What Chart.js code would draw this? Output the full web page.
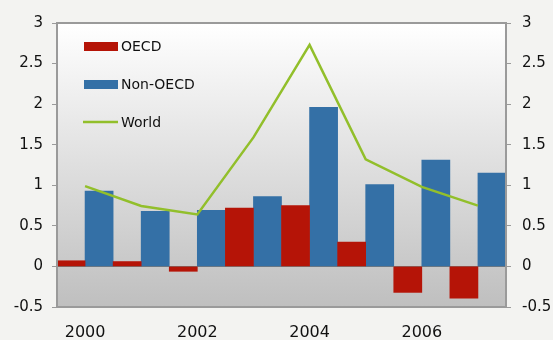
<!DOCTYPE html>
<html>
<head>
<meta charset="utf-8">
<script src="https://cdn.jsdelivr.net/npm/chart.js@4.4.0/dist/chart.umd.min.js"></script>
<style>
  html, body { margin: 0; padding: 0; background: #f3f3f1; }
  #wrap { width: 553px; height: 340px; }
</style>
</head>
<body>
<div id="wrap"><canvas id="chart" width="553" height="340"></canvas></div>
<script>
// datos
const years = ['2000', '2001', '2002', '2003', '2004', '2005', '2006', '2007'];
const oecd = [0.07, 0.06, -0.06, 0.72, 0.75, 0.30, -0.32, -0.39];
const nonOecd = [0.93, 0.68, 0.69, 0.86, 1.96, 1.01, 1.31, 1.15];
const world = [0.99, 0.745, 0.64, 1.59, 2.73, 1.32, 0.98, 0.75];
const yMin = -0.5, yMax = 3, yStep = 0.5;

const RED = '#b51407', BLUE = '#3470a6', GREEN = '#92bf2b';

const fmt = v => String(Math.round(v * 10) / 10);

// fondo degradado + marco + leyenda dentro del area
const decor = {
    id: 'decor',
    beforeDraw(chart) {
        const { ctx, chartArea: a } = chart;
        ctx.save();
        ctx.fillStyle = '#f3f3f1';
        ctx.fillRect(0, 0, chart.width, chart.height);
        const g = ctx.createLinearGradient(0, a.top, 0, a.bottom);
        g.addColorStop(0, '#ffffff');
        g.addColorStop(1, '#bfbfbf');
        ctx.fillStyle = g;
        ctx.fillRect(a.left, a.top, a.right - a.left, a.bottom - a.top);
        ctx.restore();
    },
    afterDraw(chart) {
        const { ctx, chartArea: a } = chart;
        ctx.save();
        ctx.strokeStyle = '#9a9a9a';
        ctx.lineWidth = 2;
        ctx.strokeRect(a.left, a.top, a.right - a.left, a.bottom - a.top);

        ctx.font = '14px "DejaVu Sans"';
        ctx.textBaseline = 'middle';
        const items = chart.data.datasets;
        const x0 = 84, ys = [46, 84, 122];
        items.forEach((ds, i) => {
            if (ds.type === 'line') {
                ctx.strokeStyle = ds.borderColor;
                ctx.lineWidth = 2.5;
                ctx.beginPath();
                ctx.moveTo(x0 - 1, ys[i]);
                ctx.lineTo(x0 + 34, ys[i]);
                ctx.stroke();
            } else {
                ctx.fillStyle = ds.backgroundColor;
                ctx.fillRect(x0, ys[i] - 4, 34, 9);
            }
            ctx.fillStyle = '#111';
            ctx.fillText(ds.label, x0 + 37, ys[i] + 1);
        });
        ctx.restore();
    }
};

new Chart(document.getElementById('chart'), {
    data: {
        labels: years,
        datasets: [
            { type: 'bar', label: 'OECD', data: oecd, backgroundColor: RED, order: 2,
              barPercentage: 1, categoryPercentage: 1, yAxisID: 'y' },
            { type: 'bar', label: 'Non-OECD', data: nonOecd, backgroundColor: BLUE, order: 2,
              barPercentage: 1, categoryPercentage: 1, yAxisID: 'y' },
            { type: 'line', label: 'World', data: world, borderColor: GREEN, borderWidth: 2.5,
              pointRadius: 0, tension: 0, order: 0, yAxisID: 'y' }
        ]
    },
    options: {
        responsive: false,
        animation: false,
        layout: { padding: { top: 23, left: 0, right: 0, bottom: 0 } },
        plugins: { legend: { display: false }, tooltip: { enabled: false } },
        scales: {
            x: {
                grid: { display: false, drawTicks: false },
                border: { display: false },
                ticks: {
                    autoSkip: false, maxRotation: 0, padding: 16, color: '#111',
                    font: { family: 'DejaVu Sans', size: 16 },
                    callback: (v, i) => (i % 2 === 0 ? years[i] : '')
                },
                afterFit: s => { s.height = 33; }
            },
            y: {
                position: 'left', min: yMin, max: yMax,
                border: { display: false },
                grid: {
                    color: c => (c.tick && c.tick.value === 0 ? '#7a7a7a' : 'rgba(0,0,0,0)'),
                    tickColor: '#9a9a9a', tickLength: 5, lineWidth: 1
                },
                ticks: { stepSize: yStep, padding: 9, color: '#111', callback: fmt,
                         font: { family: 'DejaVu Sans', size: 15 } },
                afterFit: s => { s.width = 57; }
            },
            y2: {
                position: 'right', min: yMin, max: yMax,
                border: { display: false },
                grid: { drawOnChartArea: false, tickColor: '#9a9a9a', tickLength: 5 },
                ticks: { stepSize: yStep, padding: 11, color: '#111', callback: fmt,
                         font: { family: 'DejaVu Sans', size: 15 } },
                afterFit: s => { s.width = 47; }
            }
        }
    },
    plugins: [decor]
});
</script>
</body>
</html>
